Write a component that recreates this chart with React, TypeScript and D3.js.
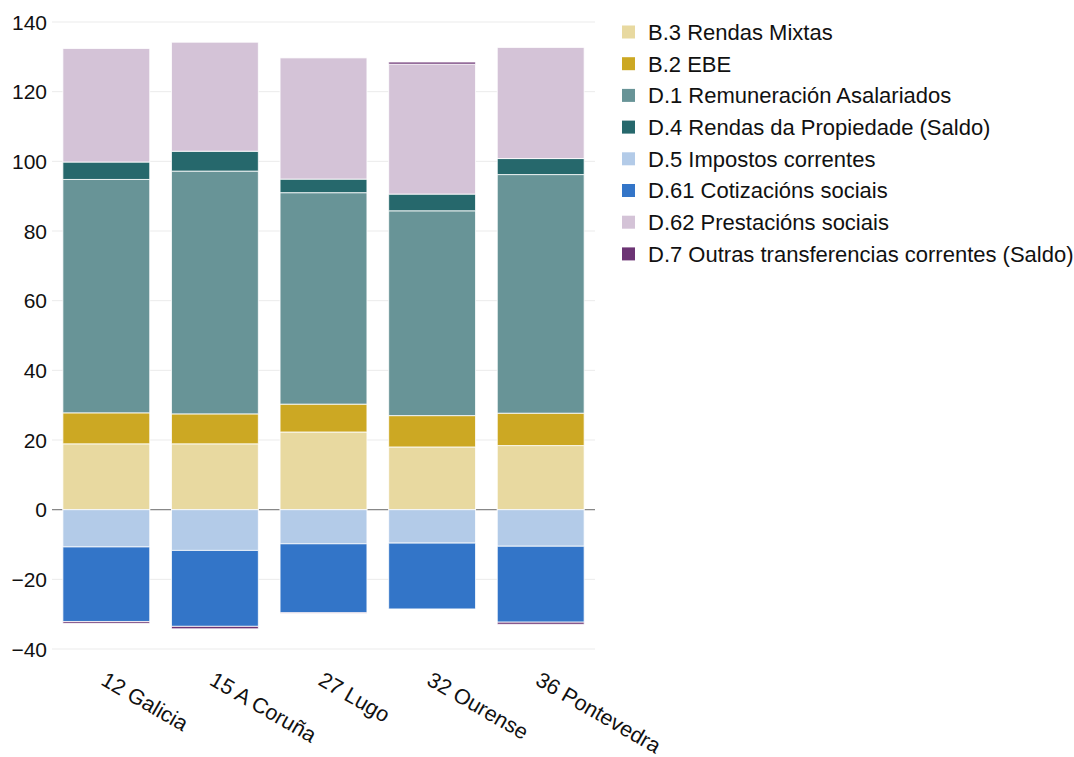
import * as React from "react"
import * as d3 from "d3"

const categories = ["12 Galicia", "15 A Coruña", "27 Lugo", "32 Ourense", "36 Pontevedra"]

const seriesNames = [
    "B.3 Rendas Mixtas",
    "B.2 EBE",
    "D.1 Remuneración Asalariados",
    "D.4 Rendas da Propiedade (Saldo)",
    "D.5 Impostos correntes",
    "D.61 Cotizacións sociais",
    "D.62 Prestacións sociais",
    "D.7 Outras transferencias correntes (Saldo)",
]

const colors = ["#e8d9a0", "#cca823", "#689497", "#26686c", "#b3cbe8", "#3375c8", "#d4c3d7", "#6c3474"]

// values per series, one per category
const b3 = [18.9, 18.9, 22.3, 18.0, 18.4]
const b2 = [8.9, 8.6, 8.0, 9.0, 9.3]
const d1 = [67.0, 69.7, 60.7, 58.8, 68.5]
const d4 = [5.0, 5.7, 3.9, 4.8, 4.6]
const d5 = [-10.7, -11.7, -9.8, -9.6, -10.5]
const d61 = [-21.4, -21.8, -19.8, -18.9, -21.8]
const d62 = [32.6, 31.3, 34.8, 37.3, 31.9]
const d7 = [-0.5, -0.7, -0.1, 0.6, -0.6]

const yTicks = [-40, -20, 0, 20, 40, 60, 80, 100, 120, 140]

export default function App() {
    const width = 1074
    const height = 757
    const left = 52
    const right = 595
    const top = 22
    const bottom = 649

    const seriesValues = [b3, b2, d1, d4, d5, d61, d62, d7]
    const rows = categories.map((c, i) => {
        const r: any = { cat: c }
        seriesNames.forEach((s, j) => { r[s] = seriesValues[j][i] })
        return r
    })

    const stacked = d3.stack<any>()
        .keys(seriesNames)
        .offset(d3.stackOffsetDiverging)(rows)

    const x = d3.scaleBand<string>()
        .domain(categories)
        .range([left, right])
        .paddingInner(0.2)
        .paddingOuter(0.1)

    const y = d3.scaleLinear().domain([-40, 140]).range([bottom, top])

    const font = "'Liberation Sans', Arial, sans-serif"

    return (
        <svg width={width} height={height} style={{ position: "absolute", left: 0, top: 0, background: "#fff" }}>
            <g>
                {yTicks.map(t => (
                    <line key={t} x1={left} x2={right} y1={y(t)} y2={y(t)} stroke="#ebebeb" strokeWidth={1} />
                ))}
                {yTicks.map(t => (
                    <text key={"l" + t} x={47} y={y(t)} dy="0.36em" textAnchor="end"
                        fontFamily={font} fontSize={21} fill="#111">
                        {t < 0 ? "\u2212" + Math.abs(t) : t}
                    </text>
                ))}
                <line x1={left} x2={right} y1={y(0)} y2={y(0)} stroke="#888" strokeWidth={1.2} />
            </g>
            <g>
                {stacked.map((s, j) => (
                    <g key={s.key} fill={colors[j]}>
                        {s.map((d, i) => {
                            const y0 = y(d[0]), y1 = y(d[1])
                            const h = Math.abs(y0 - y1)
                            if (h === 0) return null
                            return (
                                <rect key={i} x={x(categories[i])} width={x.bandwidth()}
                                    y={Math.min(y0, y1)} height={h}
                                    stroke="#fff" strokeOpacity={0.8} strokeWidth={1} />
                            )
                        })}
                    </g>
                ))}
            </g>
            <g>
                {categories.map(c => {
                    const cx = (x(c) as number) + x.bandwidth() / 2 + 1
                    return (
                        <text key={c} transform={`translate(${cx},${671}) rotate(30)`}
                            fontFamily={font} fontSize={21.5} fill="#111" textAnchor="start" dy="0.7em">
                            {c}
                        </text>
                    )
                })}
            </g>
            <g>
                {seriesNames.map((s, j) => (
                    <g key={s} transform={`translate(622, ${32 + j * 31.7})`}>
                        <rect x={0} y={-6.5} width={13} height={13} fill={colors[j]} />
                        <text x={26} y={0} dy="0.36em" fontFamily={font} fontSize={22} fill="#111">{s}</text>
                    </g>
                ))}
            </g>
        </svg>
    )
}
